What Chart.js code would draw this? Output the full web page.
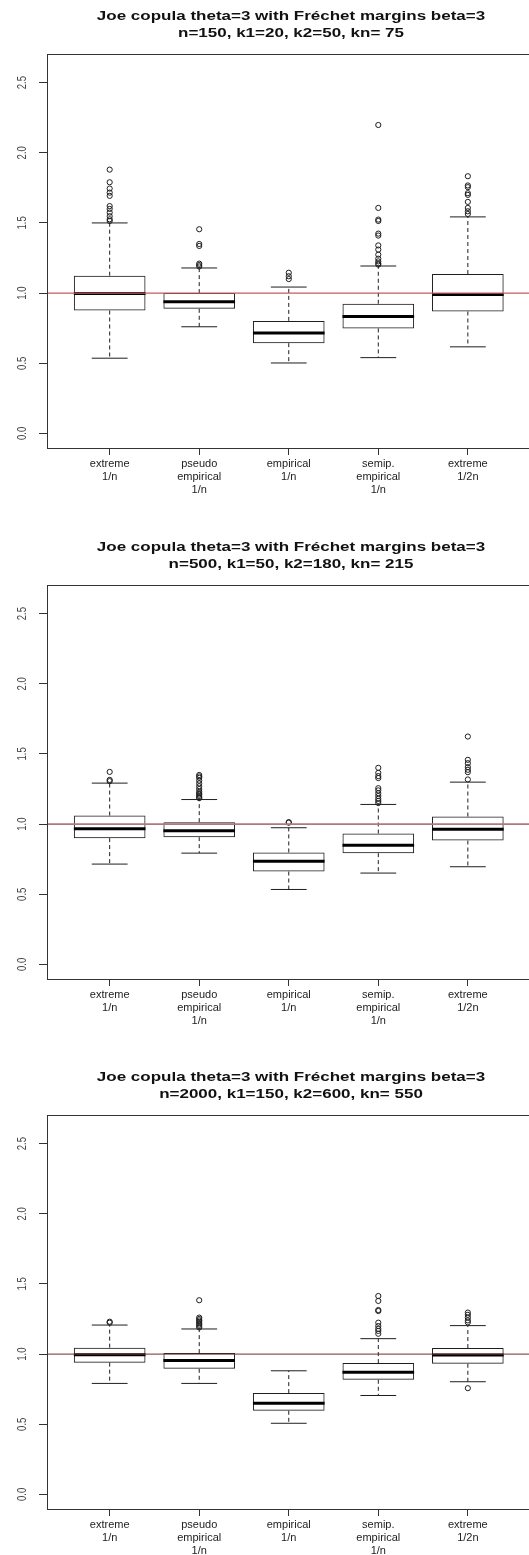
<!DOCTYPE html>
<html>
<head>
<meta charset="utf-8">
<script src="https://cdn.jsdelivr.net/npm/chart.js@4.4.1/dist/chart.umd.min.js"></script>
<style>
  html, body { margin: 0; padding: 0; background: #fff; }
  body { width: 529px; height: 1555px; overflow: hidden; position: relative; }
  .panel { position: absolute; left: 0; }
  canvas { display: block; }
</style>
</head>
<body>
<div class="panel" style="top:0px"><canvas id="c1" width="540" height="500"></canvas></div>
<div class="panel" style="top:531px"><canvas id="c2" width="540" height="500"></canvas></div>
<div class="panel" style="top:1061px"><canvas id="c3" width="540" height="494"></canvas></div>
<script>
// Estimator groups shown on the x axis
const xLabels = [
  ['extreme', '1/n'],
  ['pseudo', 'empirical', '1/n'],
  ['empirical', '1/n'],
  ['semip.', 'empirical', '1/n'],
  ['extreme', '1/2n']
];
const yTicks = [0, 0.5, 1, 1.5, 2, 2.5];
const yLimits = [0, 2.6];
const refValue = 1;

const titleA = ['Joe copula theta=3 with Fréchet margins beta=3', 'n=150, k1=20, k2=50, kn= 75'];
const titleB = ['Joe copula theta=3 with Fréchet margins beta=3', 'n=500, k1=50, k2=180, kn= 215'];
const titleC = ['Joe copula theta=3 with Fréchet margins beta=3', 'n=2000, k1=150, k2=600, kn= 550'];

// n = 150
const lowA  = [0.536, 0.760, 0.502, 0.540, 0.617];
const q1A   = [0.876, 0.888, 0.643, 0.748, 0.869];
const medA  = [0.997, 0.938, 0.716, 0.833, 0.990];
const q3A   = [1.124, 1.000, 0.802, 0.924, 1.136];
const highA = [1.500, 1.179, 1.043, 1.193, 1.543];
const outA  = [
  [1.514, 1.526, 1.548, 1.574, 1.600, 1.620, 1.693, 1.716, 1.745, 1.790, 1.880],
  [1.190, 1.200, 1.210, 1.336, 1.350, 1.455],
  [1.100, 1.120, 1.145],
  [1.203, 1.212, 1.226, 1.245, 1.274, 1.310, 1.340, 1.410, 1.424, 1.514, 1.524, 1.607, 2.198],
  [1.564, 1.583, 1.607, 1.650, 1.700, 1.712, 1.755, 1.767, 1.833]
];

// n = 500
const lowB  = [0.715, 0.793, 0.534, 0.651, 0.696];
const q1B   = [0.900, 0.907, 0.662, 0.793, 0.883];
const medB  = [0.967, 0.952, 0.736, 0.850, 0.964];
const q3B   = [1.061, 1.014, 0.798, 0.933, 1.054];
const highB = [1.292, 1.175, 0.974, 1.140, 1.299];
const outB  = [
  [1.306, 1.315, 1.372],
  [1.185, 1.190, 1.200, 1.210, 1.220, 1.230, 1.250, 1.270, 1.290, 1.310, 1.330, 1.340, 1.350],
  [1.010, 1.014],
  [1.150, 1.165, 1.180, 1.200, 1.220, 1.240, 1.256, 1.328, 1.342, 1.365, 1.401],
  [1.318, 1.370, 1.387, 1.406, 1.434, 1.458, 1.624]
];

// n = 2000
const lowC  = [0.791, 0.791, 0.507, 0.705, 0.803];
const q1C   = [0.939, 0.895, 0.596, 0.817, 0.931];
const medC  = [0.996, 0.955, 0.650, 0.871, 0.993];
const q3C   = [1.046, 1.007, 0.722, 0.936, 1.043];
const highC = [1.207, 1.179, 0.881, 1.110, 1.203];
const outC  = [
  [1.224, 1.231],
  [1.190, 1.200, 1.210, 1.220, 1.230, 1.240, 1.250, 1.260, 1.384],
  [],
  [1.145, 1.165, 1.180, 1.200, 1.224, 1.307, 1.314, 1.379, 1.414],
  [0.757, 1.226, 1.240, 1.260, 1.280, 1.296]
];

const INK = '#1e1e1e';
const BOX_WEX = 0.8;          // box width in x units
const FONT = '"Liberation Sans", Arial, sans-serif';
const TEXT_SQUASH = 0.8;      // vertical compression of the lettering

// pixel length of a span of x units, taken from the x scale
function unitPx(chart, units) {
  const xs = chart.scales.x;
  return Math.abs(xs.getPixelForValue(units) - xs.getPixelForValue(0));
}

const framePlugin = {
  id: 'frame',
  afterDatasetsDraw(chart, args, opts) {
    const { ctx, chartArea: a } = chart;
    const ys = chart.scales.y;
    // horizontal reference line
    const ry = ys.getPixelForValue(refValue);
    ctx.save();
    ctx.beginPath();
    ctx.rect(a.left, a.top, a.right - a.left, a.bottom - a.top);
    ctx.clip();
    ctx.strokeStyle = opts.refColor;
    ctx.lineWidth = opts.refWidth;
    ctx.beginPath();
    ctx.moveTo(a.left, ry);
    ctx.lineTo(a.right, ry);
    ctx.stroke();
    ctx.restore();
  },
  afterDraw(chart, args, opts) {
    const { ctx, chartArea: a } = chart;
    const ys = chart.scales.y;
    ctx.save();
    // plot box
    ctx.strokeStyle = '#333';
    ctx.lineWidth = 1;
    ctx.strokeRect(Math.round(a.left) + 0.5, Math.round(a.top) + 0.5,
                   Math.round(a.right - a.left), Math.round(a.bottom - a.top));

    // two-line bold title centred over the plot region
    ctx.fillStyle = '#111';
    ctx.font = 'bold 17px ' + FONT;
    ctx.textAlign = 'center';
    ctx.textBaseline = 'middle';
    const cx = (a.left + a.right) / 2;
    opts.title.forEach((line, k) => {
      ctx.save();
      ctx.translate(cx, opts.titleY[k]);
      ctx.scale(1, TEXT_SQUASH);
      ctx.fillText(line, 0, 0);
      ctx.restore();
    });

    // y tick labels, parallel to the axis
    ctx.fillStyle = '#444';
    ctx.font = '12px ' + FONT;
    yTicks.forEach(v => {
      const py = ys.getPixelForValue(v);
      ctx.save();
      ctx.translate(ys.right - 24, py);
      ctx.scale(1, TEXT_SQUASH);
      ctx.rotate(-Math.PI / 2);
      ctx.fillText(v.toFixed(1), 0, 0);
      ctx.restore();
    });
    ctx.restore();
  }
};

function makeBoxplot(id, title, low, q1, med, q3, high, outliers, refColor, refWidth, xHeight) {
  const xs = low.map((_, i) => i + 1);
  const whiskers = [];
  const staples = [];
  const points = [];
  xs.forEach((x, i) => {
    whiskers.push({ x, y: q3[i] }, { x, y: high[i] }, { x, y: null });
    whiskers.push({ x, y: q1[i] }, { x, y: low[i] }, { x, y: null });
    staples.push({ x, y: low[i] }, { x, y: high[i] });
    outliers[i].forEach(v => points.push({ x, y: v }));
  });
  const pad = (yLimits[1] - yLimits[0]) * 0.04;

  return new Chart(document.getElementById(id), {
    type: 'scatter',
    data: {
      datasets: [
        {
          type: 'bar',
          data: xs.map((x, i) => ({ x, y: [q1[i], q3[i]] })),
          backgroundColor: 'rgba(255,255,255,0)',
          borderColor: INK,
          borderWidth: 1,
          borderSkipped: false,
          barPercentage: BOX_WEX,
          categoryPercentage: 1,
          order: 3
        },
        {
          type: 'line',
          data: whiskers,
          borderColor: INK,
          borderWidth: 1,
          borderDash: [4, 3],
          pointRadius: 0,
          spanGaps: false,
          fill: false,
          order: 2
        },
        {
          type: 'scatter',
          data: xs.map((x, i) => ({ x, y: med[i] })),
          pointStyle: 'line',
          pointRadius: c => unitPx(c.chart, BOX_WEX / 2),
          borderColor: '#000',
          borderWidth: 3,
          order: 1
        },
        {
          type: 'scatter',
          data: staples,
          pointStyle: 'line',
          pointRadius: c => unitPx(c.chart, BOX_WEX / 4),
          borderColor: INK,
          borderWidth: 1,
          order: 1
        },
        {
          type: 'scatter',
          data: points,
          pointStyle: 'circle',
          pointRadius: 2.6,
          backgroundColor: 'rgba(255,255,255,0)',
          borderColor: INK,
          borderWidth: 1,
          order: 0
        }
      ]
    },
    options: {
      responsive: false,
      animation: false,
      events: [],
      layout: { padding: { left: 0, right: 4, top: 54, bottom: 0 } },
      plugins: {
        legend: { display: false },
        tooltip: { enabled: false },
        title: { display: false },
        frame: { refColor, refWidth, title, titleY: [16, 33] }
      },
      scales: {
        x: {
          type: 'linear',
          min: 0.3,
          max: 5.75,
          offset: false,
          afterBuildTicks: s => { s.ticks = xs.map(v => ({ value: v })); },
          afterFit: s => { s.height = xHeight; },
          ticks: {
            autoSkip: false,
            maxRotation: 0,
            minRotation: 0,
            padding: 3,
            color: '#222',
            font: { family: FONT, size: 11, lineHeight: 1.15 },
            callback: v => xLabels[Math.round(v) - 1]
          },
          grid: { display: true, offset: false, drawOnChartArea: false, drawTicks: true, tickLength: 7, color: '#333' },
          border: { display: false }
        },
        y: {
          type: 'linear',
          min: yLimits[0] - pad,
          max: yLimits[1] + pad,
          afterBuildTicks: s => { s.ticks = yTicks.map(v => ({ value: v })); },
          afterFit: s => { s.width = 47; },
          ticks: { display: false },
          grid: { display: true, drawOnChartArea: false, drawTicks: true, tickLength: 8, color: '#333' },
          border: { display: false }
        }
      }
    },
    plugins: [framePlugin]
  });
}

makeBoxplot('c1', titleA, lowA, q1A, medA, q3A, highA, outA, '#c45a5a', 1.2, 52);
makeBoxplot('c2', titleB, lowB, q1B, medB, q3B, highB, outB, '#b07a7a', 1.8, 52);
makeBoxplot('c3', titleC, lowC, q1C, medC, q3C, highC, outC, '#7a2a2a', 1, 46);
</script>
</body>
</html>
